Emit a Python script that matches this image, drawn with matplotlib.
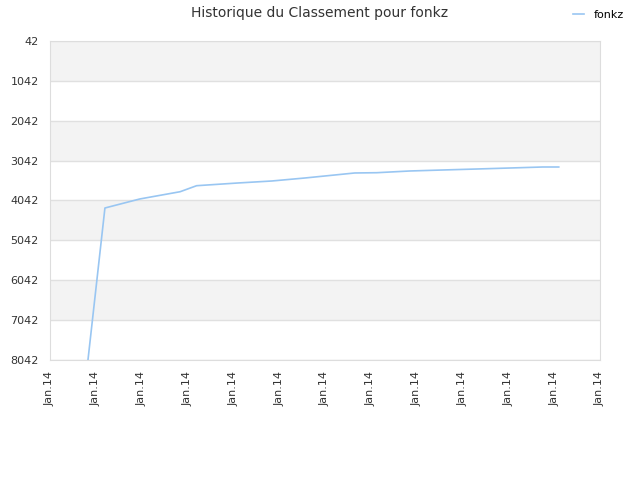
import numpy as np
import matplotlib
matplotlib.use("Agg")
from matplotlib import pyplot as plt

# position along the x axis (tick index units), rank values
days = [0.83, 1.20, 1.96, 2.84, 3.20, 4.10, 4.84, 5.56, 6.65, 7.13, 7.85, 8.57, 9.32, 10.04, 10.75, 11.10]
rank = [8042, 4230, 4004, 3822, 3671, 3603, 3553, 3478, 3352, 3345, 3302, 3277, 3252, 3227, 3202, 3202]
ytick_vals = [42, 1042, 2042, 3042, 4042, 5042, 6042, 7042, 8042]
xtick_labels = ["Jan.14"] * 13

fig = plt.figure(figsize=(6.4, 4.8), dpi=100)
ax = fig.add_axes([0.078, 0.25, 0.8595, 0.6646])

# alternating bands
for i in range(len(ytick_vals) - 1):
    if i % 2 == 0:
        ax.axhspan(ytick_vals[i], ytick_vals[i + 1], color="#f3f3f3", zorder=0, lw=0)
for v in ytick_vals:
    ax.axhline(v, color="#e0e0e0", lw=1, zorder=1)

ax.plot(days, rank, color="#99c6f2", lw=1.2, zorder=3, label="fonkz")

ax.set_ylim(8042, 42)
ax.set_xlim(0, 12)
ax.set_yticks(ytick_vals)
ax.set_yticklabels([str(v) for v in ytick_vals])
ax.set_xticks(range(13))
ax.set_xticklabels(xtick_labels, rotation=90)
ax.tick_params(length=0, labelsize=8, labelcolor="#333333", pad=8)
for s in ax.spines.values():
    s.set_color("#dddddd")

fig.suptitle("Historique du Classement pour fonkz", x=0.5, y=0.988, fontsize=10, color="#333333")
leg = fig.legend(loc="upper right", bbox_to_anchor=(0.99, 1.0), frameon=False, fontsize=8,
                 handlelength=1.0, handletextpad=0.8)
for t in leg.get_texts():
    t.set_color("#000000")

fig.savefig("out.png", dpi=100)
